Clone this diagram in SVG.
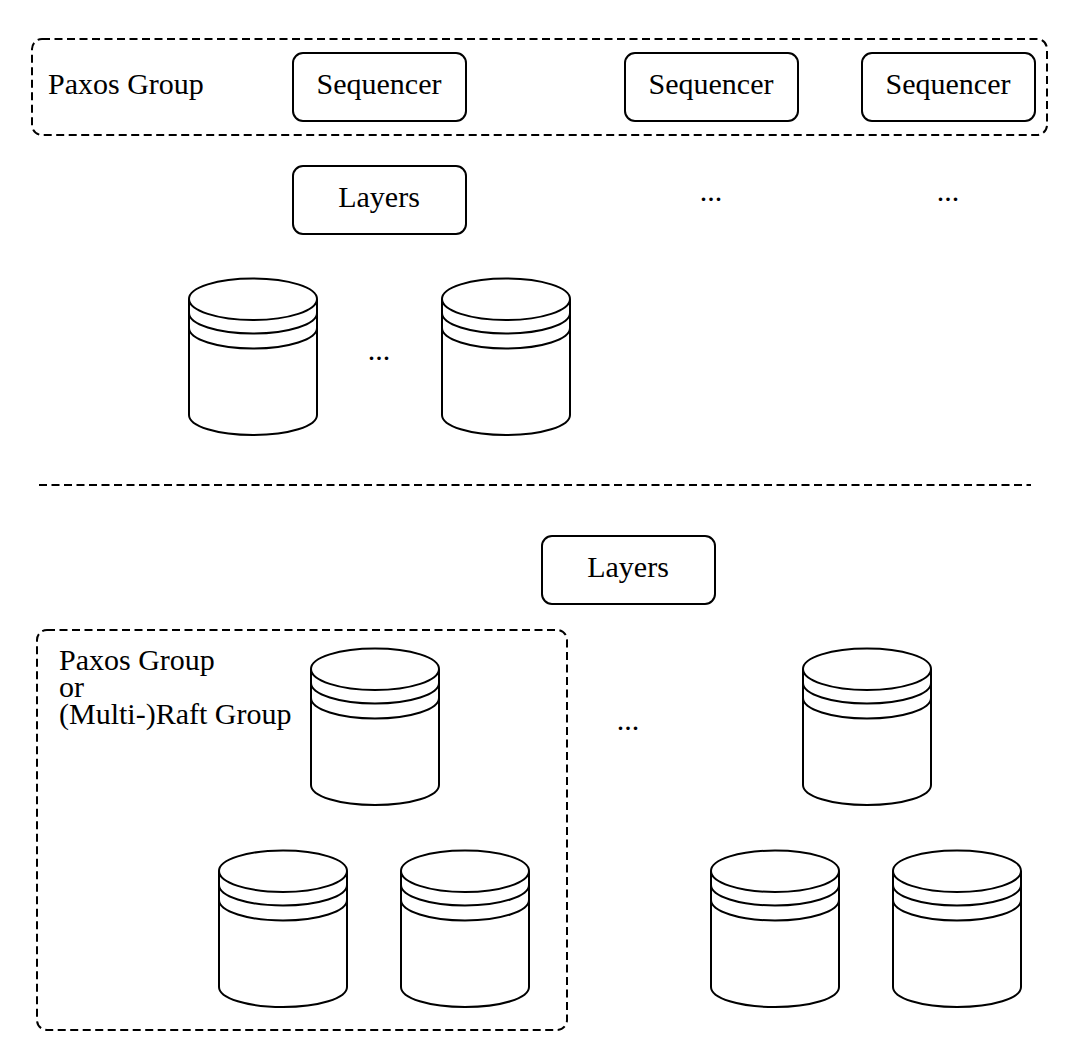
<svg xmlns="http://www.w3.org/2000/svg" width="1080" height="1060" viewBox="0 0 1080 1060">
<defs>
<style>
.s{fill:#fff;stroke:#000;stroke-width:2}
.n{fill:none;stroke:#000;stroke-width:2}
.d{fill:none;stroke:#000;stroke-width:2;stroke-dasharray:8 4.500}
text{font-family:"Liberation Serif","Times New Roman",serif;font-size:30px;fill:#000}
.m{text-anchor:middle}
</style>
<g id="cyl">
<path class="s" d="M0 20V136C0 147.400 28.700 156 64 156S128 147.400 128 136V20C128 8.400 99.300 -0.500 64 -0.500S0 8.400 0 20Z"/>
<path class="n" d="M0 20C0 31.600 28.700 41 64 41S128 31.600 128 20M0 34C0 45.300 28.700 54.500 64 54.500S128 45.300 128 34M0 49C0 60.300 28.700 69.500 64 69.500S128 60.300 128 49"/>
</g>
</defs>
<rect width="1080" height="1060" fill="#fff"/>
<g id="paxos-top"><rect class="d" x="32" y="39" width="1015" height="96" rx="10"/><text x="48" y="94">Paxos Group</text></g>
<g id="seq1"><rect class="s" x="293" y="53" width="173" height="68" rx="10"/><text class="m" x="379" y="94">Sequencer</text></g>
<g id="seq2"><rect class="s" x="625" y="53" width="173" height="68" rx="10"/><text class="m" x="711" y="94">Sequencer</text></g>
<g id="seq3"><rect class="s" x="862" y="53" width="173" height="68" rx="10"/><text class="m" x="948" y="94">Sequencer</text></g>
<g id="layers1"><rect class="s" x="293" y="166" width="173" height="68" rx="10"/><text class="m" x="379" y="207">Layers</text></g>
<g id="dots1"><text class="m" x="711" y="201">...</text></g>
<g id="dots2"><text class="m" x="948" y="201">...</text></g>
<g id="db1"><use href="#cyl" x="189" y="279"/></g>
<g id="dots3"><text class="m" x="379" y="360">...</text></g>
<g id="db2"><use href="#cyl" x="442" y="279"/></g>
<g id="connectors"><path class="d" d="M39 485H1031"/></g>
<g id="layers2"><rect class="s" x="542" y="536" width="173" height="68" rx="10"/><text class="m" x="628" y="577">Layers</text></g>
<g id="group-bottom"><rect class="d" x="37" y="630" width="530" height="400" rx="10"/>
<text x="59" y="670">Paxos Group</text><text x="59" y="697">or</text><text x="59" y="724">(Multi-)Raft Group</text></g>
<g id="db3"><use href="#cyl" x="311" y="649"/></g>
<g id="db4"><use href="#cyl" x="219" y="851"/></g>
<g id="db5"><use href="#cyl" x="401" y="851"/></g>
<g id="dots4"><text class="m" x="628" y="730">...</text></g>
<g id="db6"><use href="#cyl" x="803" y="649"/></g>
<g id="db7"><use href="#cyl" x="711" y="851"/></g>
<g id="db8"><use href="#cyl" x="893" y="851"/></g>
</svg>
